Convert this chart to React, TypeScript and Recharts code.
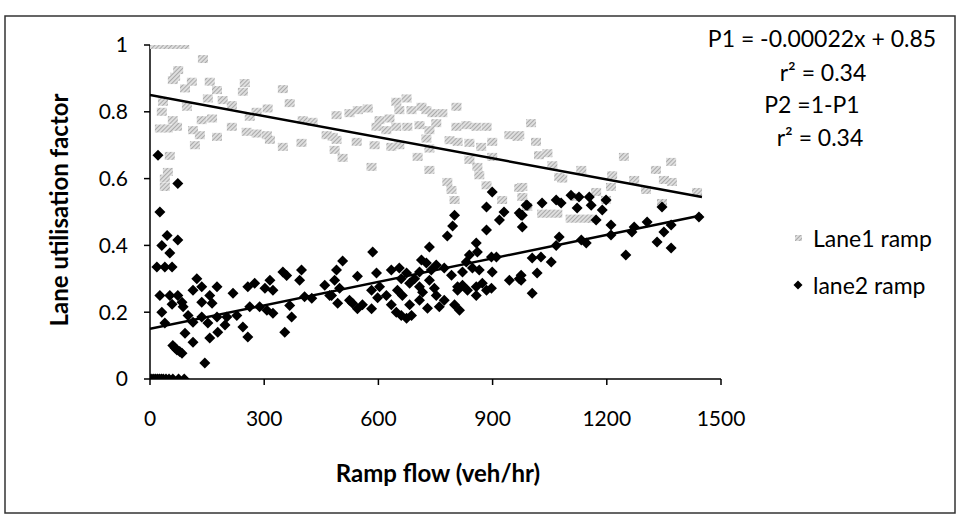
import React from 'react';
import { ScatterChart, Scatter, XAxis, YAxis } from 'recharts';

// Lane 1 ramp utilisation (x: ramp flow veh/hr, y: factor)
const lane1: [number, number][] = [
  [0, 1], [8, 1], [16, 1], [24, 1], [32, 1], [40, 1], [48, 1], [56, 1], [64, 1], [72, 1], [80, 1], [90, 1],
  [139, 0.958], [74, 0.925], [66, 0.905], [60, 0.895], [110, 0.89], [92, 0.87], [157, 0.89], [176, 0.865],
  [249, 0.886], [244, 0.86], [349, 0.868], [34, 0.83], [97, 0.815], [152, 0.84], [191, 0.835], [215, 0.82],
  [367, 0.826], [309, 0.81], [280, 0.8], [31, 0.8], [60, 0.775], [26, 0.75], [47, 0.75], [71, 0.755],
  [113, 0.745], [136, 0.775], [163, 0.78], [131, 0.73], [118, 0.7], [176, 0.725], [215, 0.755], [254, 0.74],
  [280, 0.735], [307, 0.73], [315, 0.716], [349, 0.695], [262, 0.785], [401, 0.775], [398, 0.707], [427, 0.77],
  [464, 0.73], [490, 0.716], [52, 0.668], [39, 0.6], [47, 0.62], [39, 0.575],
  [490, 0.79], [524, 0.796], [546, 0.805], [572, 0.81], [647, 0.83], [674, 0.84], [655, 0.805], [687, 0.805],
  [713, 0.815], [726, 0.805], [742, 0.796], [768, 0.796], [805, 0.815], [603, 0.775], [629, 0.78], [595, 0.755],
  [621, 0.745], [647, 0.755], [676, 0.755], [708, 0.76], [734, 0.745], [752, 0.766], [805, 0.755], [831, 0.76],
  [857, 0.755], [884, 0.755], [944, 0.73], [965, 0.725], [480, 0.725], [543, 0.71], [590, 0.7], [634, 0.695],
  [655, 0.7], [703, 0.665], [734, 0.69], [726, 0.72], [787, 0.715], [808, 0.71], [839, 0.707], [870, 0.695],
  [899, 0.71], [485, 0.686], [506, 0.662], [582, 0.635], [734, 0.626], [839, 0.656], [899, 0.665], [860, 0.635],
  [865, 0.61], [781, 0.59], [792, 0.566], [800, 0.536], [884, 0.58], [978, 0.575], [978, 0.545], [925, 0.536],
  [1001, 0.766], [1014, 0.71], [1022, 0.67], [1044, 0.676], [970, 0.73], [1057, 0.64], [1075, 0.605], [1083, 0.6],
  [1133, 0.626], [1214, 0.61], [1211, 0.575], [1245, 0.665], [1272, 0.596], [1303, 0.566], [1329, 0.626],
  [1350, 0.596], [1369, 0.65], [1371, 0.59], [1437, 0.56], [970, 0.572], [1345, 0.527], [1030, 0.495],
  [1050, 0.495], [1070, 0.495], [1105, 0.48], [1125, 0.48], [1145, 0.48], [1160, 0.48], [1172, 0.56],
  [1120, 0.545], [991, 0.515], [1198, 0.536],
];

// Lane 2 ramp utilisation
const lane2: [number, number][] = [
  [21, 0.67], [73, 0.585], [26, 0.5], [45, 0.43], [31, 0.4], [52, 0.377], [73, 0.416], [18, 0.335], [39, 0.335],
  [58, 0.335], [26, 0.25], [52, 0.25], [73, 0.25], [84, 0.23], [58, 0.224], [87, 0.216], [31, 0.2], [39, 0.168],
  [100, 0.19], [113, 0.17], [92, 0.137], [60, 0.1], [66, 0.093], [71, 0.087], [78, 0.082], [84, 0.077], [113, 0.11],
  [144, 0.048], [123, 0.3], [113, 0.266], [136, 0.276], [136, 0.23], [157, 0.25], [176, 0.276], [163, 0.227],
  [136, 0.186], [152, 0.168], [176, 0.186], [178, 0.14], [157, 0.123], [197, 0.162], [202, 0.186], [218, 0.257],
  [228, 0.19], [244, 0.156], [257, 0.126], [257, 0.276], [275, 0.287], [262, 0.216], [288, 0.216], [302, 0.272],
  [315, 0.296], [323, 0.266], [307, 0.206], [323, 0.197], [349, 0.32], [359, 0.31], [398, 0.326], [393, 0.296],
  [367, 0.22], [372, 0.186], [354, 0.14], [406, 0.246], [425, 0.242], [459, 0.281], [472, 0.25], [485, 0.296],
  [490, 0.326], [493, 0.227],
  [0, 0], [5, 0], [10, 0], [15, 0], [20, 0], [25, 0], [30, 0], [35, 0], [42, 0], [50, 0], [60, 0], [75, 0], [90, 0],
  [795, 0.458], [781, 0.428], [884, 0.446], [978, 0.455], [585, 0.38], [506, 0.353], [498, 0.272], [477, 0.25],
  [545, 0.308], [524, 0.236], [532, 0.227], [545, 0.21], [558, 0.222], [582, 0.21], [582, 0.266], [595, 0.317],
  [603, 0.276], [598, 0.243], [621, 0.25], [634, 0.326], [634, 0.222], [647, 0.2], [655, 0.332], [660, 0.3],
  [650, 0.266], [674, 0.317], [682, 0.287], [663, 0.25], [682, 0.222], [660, 0.19], [674, 0.182], [687, 0.19],
  [695, 0.3], [708, 0.276], [716, 0.26], [708, 0.236], [729, 0.212], [708, 0.32], [713, 0.356], [734, 0.395],
  [726, 0.347], [739, 0.326], [752, 0.341], [734, 0.296], [747, 0.272], [752, 0.25], [773, 0.236], [760, 0.216],
  [773, 0.332], [792, 0.311], [808, 0.276], [800, 0.222], [813, 0.206], [821, 0.32], [831, 0.35], [839, 0.371],
  [857, 0.407], [860, 0.38], [847, 0.332], [865, 0.326], [821, 0.281], [808, 0.266], [834, 0.266], [857, 0.276],
  [873, 0.287], [884, 0.266], [897, 0.272], [857, 0.25], [897, 0.365], [910, 0.365], [899, 0.32], [944, 0.296],
  [970, 0.3],
  [991, 0.52], [1030, 0.527], [1067, 0.536], [1080, 0.527], [1106, 0.55], [1127, 0.545], [1154, 0.545],
  [1122, 0.512], [1159, 0.52], [1198, 0.536], [1188, 0.506], [1172, 0.476], [978, 0.49], [1211, 0.461],
  [1211, 0.431], [1075, 0.425], [1067, 0.4], [1133, 0.416], [1146, 0.407], [1272, 0.455], [1266, 0.44],
  [1306, 0.47], [1345, 0.515], [1369, 0.461], [1350, 0.44], [1332, 0.41], [1369, 0.392], [1442, 0.485],
  [1250, 0.371], [1004, 0.362], [1027, 0.365], [1054, 0.35], [1017, 0.317], [975, 0.311], [1004, 0.257],
  [975, 0.296], [899, 0.56], [884, 0.515], [930, 0.5], [918, 0.476], [800, 0.49], [988, 0.52], [975, 0.49],
  [970, 0.497],
];

// Linear trend lines (end points)
const trend1: [number, number][] = [[0, 0.85], [1450, 0.545]];
const trend2: [number, number][] = [[0, 0.15], [1450, 0.49]];

const xTicks = [0, 300, 600, 900, 1200, 1500];
const yTicks = [0, 0.2, 0.4, 0.6, 0.8, 1];

const equationLines = ['P1 = -0.00022x + 0.85', 'r\u00B2 = 0.34', 'P2 =1-P1', 'r\u00B2 = 0.34'];
const seriesNames = ['Lane1 ramp', 'lane2 ramp'];
const xTitle = 'Ramp flow (veh/hr)';
const yTitle = 'Lane utilisation factor';

const toPts = (a: [number, number][]) => a.map(([x, y]) => ({ x, y }));

const FONT = 'Lato, "Open Sans", sans-serif';

const HatchSquare = (p: any) => (
  <rect x={p.cx - 5} y={p.cy - 4} width={10} height={8} fill="url(#hatchPat)" />
);
const Diamond = (p: any) => (
  <polygon
    points={`${p.cx},${p.cy - 5.5} ${p.cx + 5.5},${p.cy} ${p.cx},${p.cy + 5.5} ${p.cx - 5.5},${p.cy}`}
    fill="#000"
  />
);
const NoShape = () => <g />;

export default function App() {
  const tickStyle = { fontSize: 21, fill: '#000', fontFamily: FONT };
  const txt = { fontSize: 23, fontFamily: FONT, fill: '#000' };
  return (
    <div style={{ position: 'absolute', left: 0, top: 0, width: 957, height: 517, background: '#fff' }}>
      <svg width={0} height={0} style={{ position: 'absolute' }}>
        <defs>
          <pattern id="hatchPat" width="3" height="3" patternUnits="userSpaceOnUse" patternTransform="rotate(45)">
            <rect width="3" height="3" fill="#dedede" />
            <line x1="0" y1="0" x2="0" y2="3" stroke="#8e8e8e" strokeWidth="1.3" />
          </pattern>
        </defs>
      </svg>
      <ScatterChart width={957} height={517} margin={{ top: 45, right: 236, bottom: 108, left: 90 }}>
        <XAxis
          type="number"
          dataKey="x"
          domain={[0, 1500]}
          ticks={xTicks}
          axisLine={{ stroke: '#000', strokeWidth: 1.5 }}
          tickLine={{ stroke: '#000', strokeWidth: 1.5 }}
          tickSize={6}
          tickMargin={26}
          tick={tickStyle}
          height={30}
          allowDataOverflow
        />
        <YAxis
          type="number"
          dataKey="y"
          domain={[0, 1]}
          ticks={yTicks}
          axisLine={{ stroke: '#000', strokeWidth: 1.5 }}
          tickLine={{ stroke: '#000', strokeWidth: 1.5 }}
          tickSize={6}
          tickMargin={16}
          tick={tickStyle}
          width={60}
          allowDataOverflow
        />
        <Scatter name="Lane1 ramp" data={toPts(lane1)} shape={HatchSquare} isAnimationActive={false} />
        <Scatter name="lane2 ramp" data={toPts(lane2)} shape={Diamond} isAnimationActive={false} />
        <Scatter data={toPts(trend1)} line={{ stroke: '#000', strokeWidth: 2.5 }} shape={NoShape} isAnimationActive={false} />
        <Scatter data={toPts(trend2)} line={{ stroke: '#000', strokeWidth: 2.5 }} shape={NoShape} isAnimationActive={false} />
      </ScatterChart>
      <svg
        width={957}
        height={517}
        style={{ position: 'absolute', left: 0, top: 0, pointerEvents: 'none' }}
      >
        <rect x={5} y={16} width={950} height={497} fill="none" stroke="#333" strokeWidth={1.5} />
        <text x={822} y={38} textAnchor="middle" dominantBaseline="central" {...txt}>
          {equationLines[0]}
        </text>
        <text x={823} y={72} textAnchor="middle" dominantBaseline="central" {...txt}>
          {equationLines[1]}
        </text>
        <text x={812} y={104} textAnchor="middle" dominantBaseline="central" {...txt}>
          {equationLines[2]}
        </text>
        <text x={820} y={137} textAnchor="middle" dominantBaseline="central" {...txt}>
          {equationLines[3]}
        </text>
        <rect x={795} y={235} width={7} height={6} fill="url(#hatchPat)" />
        <text x={813} y={238} dominantBaseline="central" {...txt}>
          {seriesNames[0]}
        </text>
        <polygon points="798,280.5 802.5,285 798,289.5 793.5,285" fill="#000" />
        <text x={813} y={285} dominantBaseline="central" {...txt}>
          {seriesNames[1]}
        </text>
        <text x={438} y={472} textAnchor="middle" dominantBaseline="central" fontSize={24} fontWeight="bold" fontFamily={FONT}>
          {xTitle}
        </text>
        <text
          x={58}
          y={210}
          textAnchor="middle"
          dominantBaseline="central"
          fontSize={24}
          fontWeight="bold"
          fontFamily={FONT}
          transform="rotate(-90 58 210)"
        >
          {yTitle}
        </text>
      </svg>
    </div>
  );
}
